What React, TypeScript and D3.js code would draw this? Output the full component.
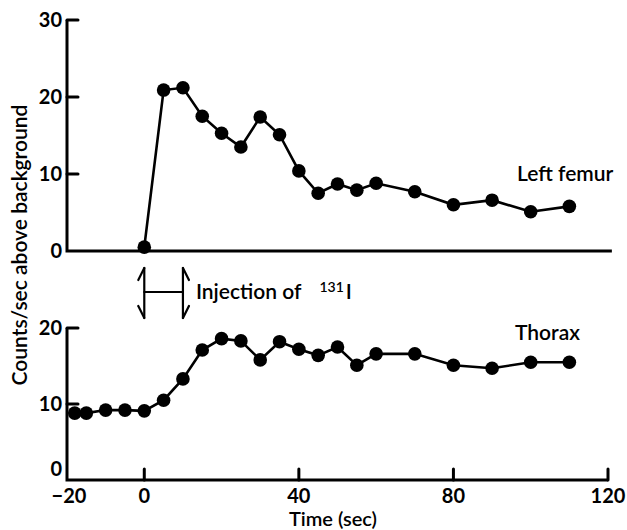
import React from "react";
import * as d3 from "d3";

const femurTime = [0, 5, 10, 15, 20, 25, 30, 35, 40, 45, 50, 55, 60, 70, 80, 90, 100, 110];
const femurCounts = [0.5, 20.9, 21.2, 17.5, 15.3, 13.5, 17.4, 15.1, 10.4, 7.5, 8.7, 7.9, 8.8, 7.7, 6.0, 6.6, 5.1, 5.8];
const thoraxTime = [-18, -15, -10, -5, 0, 5, 10, 15, 20, 25, 30, 35, 40, 45, 50, 55, 60, 70, 80, 90, 100, 110];
const thoraxCounts = [8.8, 8.8, 9.2, 9.2, 9.1, 10.5, 13.3, 17.1, 18.6, 18.3, 15.8, 18.2, 17.2, 16.4, 17.5, 15.1, 16.6, 16.6, 15.1, 14.7, 15.5, 15.5];
const xTicks = [-20, 0, 40, 80, 120];
const yTopTicks = [0, 10, 20, 30];
const yBotTicks = [0, 10, 20];

const FONT = "Lato, 'Open Sans', sans-serif";

export default function App() {
  const x = d3.scaleLinear().domain([-20, 120]).range([67, 608]);
  const yTop = d3.scaleLinear().domain([0, 30]).range([251, 20]);
  const yBot = d3.scaleLinear().domain([0, 20]).range([480, 328]);

  const femur = femurTime.map((t, i) => [t, femurCounts[i]] as [number, number]);
  const thorax = thoraxTime.map((t, i) => [t, thoraxCounts[i]] as [number, number]);

  const lineTop = d3.line<[number, number]>().x(d => x(d[0])).y(d => yTop(d[1]));
  const lineBot = d3.line<[number, number]>().x(d => x(d[0])).y(d => yBot(d[1]));

  const x0 = x(0);
  const x10 = x(10);
  const aTop = 268;
  const aBot = 318;
  const aMid = 292;

  return (
    <svg width={627} height={530} style={{ position: "absolute", left: 0, top: 0, background: "#fff" }}>
      {/* Axes */}
      <g stroke="#000" strokeWidth={3} strokeLinecap="round" fill="none">
        <path d={`M${x(-20)},${yTop(30)} V${yTop(0)} H${x(121)}`} strokeLinecap="butt" />
        {yTopTicks.filter(t => t > 0).map(t => (
          <line key={t} x1={x(-20)} x2={x(-20) + 11} y1={yTop(t)} y2={yTop(t)} />
        ))}
        <path d={`M${x(-20)},${yBot(20)} V${yBot(0)} H${x(120)}`} strokeLinecap="butt" />
        {yBotTicks.filter(t => t > 0).map(t => (
          <line key={t} x1={x(-20)} x2={x(-20) + 11} y1={yBot(t)} y2={yBot(t)} />
        ))}
        {xTicks.filter(t => t > -20).map(t => (
          <line key={t} x1={x(t)} x2={x(t)} y1={yBot(0)} y2={yBot(0) - 11} />
        ))}
      </g>

      {/* Tick labels */}
      <g fontFamily={FONT} fontWeight={700} fontSize={20} fill="#000">
        {yTopTicks.map(t => (
          <text key={t} x={x(-20) - 5} y={yTop(t)} dy="0.36em" textAnchor="end">{t}</text>
        ))}
        {yBotTicks.map(t => (
          <text key={t} x={x(-20) - 5} y={yBot(t) - (t === 0 ? 11 : 0)} dy="0.36em" textAnchor="end">{t}</text>
        ))}
        {xTicks.map(t => (
          <text key={t} x={x(t) + (t < 0 ? 2 : 0)} y={yBot(0) + 23} textAnchor="middle">{t < 0 ? "\u2212" + Math.abs(t) : t}</text>
        ))}
      </g>

      {/* Series */}
      <path d={lineTop(femur) || ""} stroke="#000" strokeWidth={2.6} fill="none" />
      {femur.map((d, i) => (
        <circle key={i} cx={x(d[0])} cy={yTop(d[1])} r={6.8} fill="#000" />
      ))}
      <path d={lineBot(thorax) || ""} stroke="#000" strokeWidth={2.6} fill="none" />
      {thorax.map((d, i) => (
        <circle key={i} cx={x(d[0])} cy={yBot(d[1])} r={6.8} fill="#000" />
      ))}

      {/* Injection marker */}
      <g stroke="#000" strokeWidth={2.2} fill="none" strokeLinecap="round">
        <line x1={x0} x2={x0} y1={aTop} y2={aBot} />
        <path d={`M${x0},${aTop} Q${x0 - 3},${aTop + 6} ${x0 - 6},${aTop + 12}`} />
        <path d={`M${x0},${aBot} Q${x0 - 3},${aBot - 6} ${x0 - 6},${aBot - 12}`} />
        <line x1={x10} x2={x10} y1={aTop} y2={aBot} />
        <path d={`M${x10},${aTop} Q${x10 + 3},${aTop + 6} ${x10 + 6},${aTop + 12}`} />
        <path d={`M${x10},${aBot} Q${x10 + 3},${aBot - 6} ${x10 + 6},${aBot - 12}`} />
        <line x1={x0} x2={x10} y1={aMid} y2={aMid} />
      </g>
      <text x={x10 + 13} y={aMid + 7} fontFamily={FONT} fontWeight={600} fontSize={21} fill="#000">
        Injection of
        <tspan dx={18} dy={-7} fontSize={14}>131</tspan>
        <tspan dx={2} dy={7}>I</tspan>
      </text>

      {/* Series labels */}
      <text x={517} y={181} fontFamily={FONT} fontWeight={600} fontSize={21} fill="#000">Left femur</text>
      <text x={515} y={340} fontFamily={FONT} fontWeight={600} fontSize={21} fill="#000">Thorax</text>

      {/* Axis titles */}
      <text x={333} y={526} textAnchor="middle" fontFamily={FONT} fontWeight={600} fontSize={20} fill="#000">Time (sec)</text>
      <text transform="translate(27,245) rotate(-90)" textAnchor="middle" fontFamily={FONT} fontWeight={600} fontSize={21} fill="#000">
        Counts/sec above background
      </text>
    </svg>
  );
}
